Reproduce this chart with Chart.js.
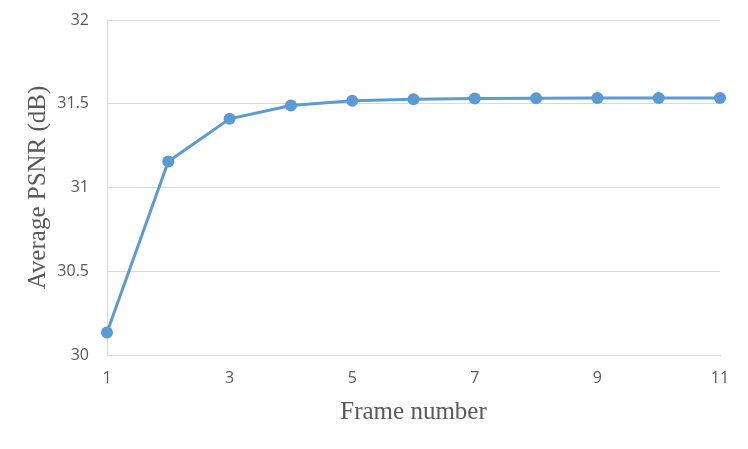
<!DOCTYPE html>
<html>
<head>
<meta charset="utf-8">
<script src="https://cdn.jsdelivr.net/npm/chart.js@4/dist/chart.umd.min.js"></script>
<style>
html,body{margin:0;padding:0;background:#fff;}
#wrap{width:748px;height:449px;position:relative;}
</style>
</head>
<body>
<div id="wrap"><canvas id="c" width="748" height="449"></canvas></div>
<script>
const frames = [1, 2, 3, 4, 5, 6, 7, 8, 9, 10, 11];
const psnr = [30.135, 31.155, 31.41, 31.49, 31.518, 31.527, 31.531, 31.533, 31.534, 31.535, 31.535];
const xTicks = [1, 3, 5, 7, 9, 11];
const yTicks = [30, 30.5, 31, 31.5, 32];
const xTitle = 'Frame number';
const yTitle = 'Average PSNR (dB)';

const tickFont = {family: '"Open Sans", "Liberation Sans", sans-serif', size: 16};
const titleFont = {family: '"Liberation Serif", "DejaVu Serif", serif', size: 25};
const grey = '#595959';
const gridC = '#d9d9d9';

new Chart(document.getElementById('c'), {
  type: 'line',
  data: {
    datasets: [{
      data: frames.map((f, i) => ({x: f, y: psnr[i]})),
      borderColor: '#5B9BD5',
      backgroundColor: '#5B9BD5',
      borderWidth: 3,
      pointRadius: 6,
      pointHoverRadius: 6,
      pointBorderWidth: 0,
      tension: 0,
      clip: false
    }]
  },
  options: {
    responsive: false,
    animation: false,
    layout: {autoPadding: false, padding: {top: 20, right: 28, left: 0, bottom: 0}},
    plugins: {legend: {display: false}, tooltip: {enabled: false}},
    scales: {
      x: {
        type: 'linear',
        min: 1, max: 11,
        afterBuildTicks: s => { s.ticks = xTicks.map(v => ({value: v})); },
        afterFit: s => { s.height = 94; s.paddingLeft = 0; s.paddingRight = 0; },
        grid: {display: false, drawTicks: false},
        border: {display: true, color: gridC, width: 1},
        ticks: {color: grey, font: tickFont, padding: 14, callback: v => String(v)},
        title: {display: true, text: xTitle, color: grey, font: titleFont, padding: {top: 0, bottom: 22}}
      },
      y: {
        type: 'linear',
        min: 30, max: 32,
        afterBuildTicks: s => { s.ticks = yTicks.map(v => ({value: v})); },
        afterFit: s => { s.width = 107; s.paddingTop = 0; s.paddingBottom = 0; },
        grid: {color: gridC, lineWidth: 1, drawTicks: false},
        border: {display: true, color: gridC, width: 1},
        ticks: {color: grey, font: tickFont, padding: 18, callback: v => String(v)},
        title: {display: true, text: yTitle, color: grey, font: titleFont, padding: {top: 23, bottom: 0}}
      }
    }
  }
});
</script>
</body>
</html>
